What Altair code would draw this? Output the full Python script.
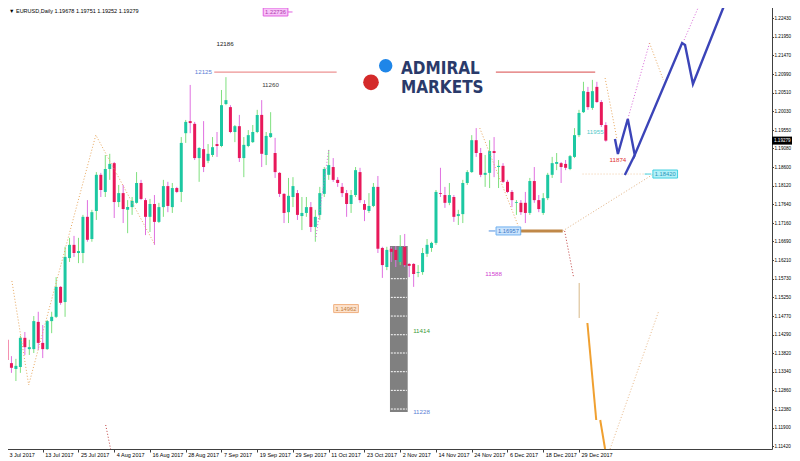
import json
import altair as alt
import pandas as pd

# ---------------- candle data (bar 0 = 3 Jul 2017, daily bars) ----------------
opens = [
    1.1416, 1.1356, 1.1341, 1.1346, 1.1421, 1.1392, 1.1392, 1.1462, 1.1408, 1.1392,
    1.1464, 1.1475, 1.1552, 1.1513, 1.1626, 1.1660, 1.1639, 1.1639, 1.1732, 1.1675,
    1.1747, 1.1840, 1.1796, 1.1855, 1.1870, 1.1770, 1.1793, 1.1750, 1.1757, 1.1768,
    1.1819, 1.1775, 1.1732, 1.1765, 1.1719, 1.1757, 1.1811, 1.1757, 1.1806, 1.1796,
    1.1947, 1.1978, 1.1971, 1.1883, 1.1906, 1.1876, 1.1891, 1.1919, 1.1914, 1.2022,
    1.2014, 1.1950, 1.1965, 1.1883, 1.1914, 1.1924, 1.1950, 1.1994, 1.1891, 1.1937,
    1.1896, 1.1845, 1.1791, 1.1744, 1.1783, 1.1793, 1.1734, 1.1742, 1.1757, 1.1706,
    1.1737, 1.1791, 1.1840, 1.1860, 1.1827, 1.1809, 1.1793, 1.1765, 1.1788, 1.1847,
    1.1765, 1.1747, 1.1760, 1.1809, 1.1652, 1.1603, 1.1650, 1.1647, 1.1616, 1.1655,
    1.1611, 1.1611, 1.1588, 1.1590, 1.1637, 1.1652, 1.1665, 1.1793, 1.1788, 1.1768,
    1.1783, 1.1734, 1.1739, 1.1819, 1.1847, 1.1929, 1.1896, 1.1840, 1.1845, 1.1901,
    1.1860, 1.1863, 1.1822, 1.1796, 1.1768, 1.1768, 1.1768, 1.1742, 1.1824, 1.1775,
    1.1742, 1.1780, 1.1840, 1.1868, 1.1870, 1.1868, 1.1855, 1.1886, 1.1942, 1.2001,
    1.2053, 1.2012, 1.2066, 1.2027, 1.19678,
]
highs = [
    1.1428, 1.1374, 1.1367, 1.1426, 1.1436, 1.1416, 1.1477, 1.1488, 1.1454, 1.1467,
    1.1488, 1.1577, 1.1554, 1.1655, 1.1678, 1.1683, 1.1678, 1.1737, 1.1775, 1.1750,
    1.1847, 1.1845, 1.1891, 1.1894, 1.1873, 1.1814, 1.1814, 1.1775, 1.1783, 1.1847,
    1.1827, 1.1780, 1.1778, 1.1788, 1.1768, 1.1827, 1.1822, 1.1819, 1.1809, 1.1937,
    1.1981, 1.2071, 1.1976, 1.1911, 1.1978, 1.1919, 1.1937, 1.1950, 1.2058, 1.2091,
    1.2019, 1.1968, 1.1994, 1.1937, 1.1955, 1.1968, 1.2007, 1.2032, 1.1950, 1.2001,
    1.1935, 1.1847, 1.1793, 1.1832, 1.1834, 1.1801, 1.1783, 1.1783, 1.1770, 1.1750,
    1.1809, 1.1860, 1.1904, 1.1883, 1.1834, 1.1819, 1.1801, 1.1801, 1.1860, 1.1858,
    1.1775, 1.1793, 1.1819, 1.1837, 1.1655, 1.1655, 1.1655, 1.1657, 1.1685, 1.1688,
    1.1613, 1.1613, 1.1608, 1.1652, 1.1675, 1.1668, 1.1801, 1.1858, 1.1809, 1.1819,
    1.1788, 1.1750, 1.1827, 1.1852, 1.1942, 1.1960, 1.1909, 1.1891, 1.1929, 1.1937,
    1.1878, 1.1870, 1.1827, 1.1801, 1.1775, 1.1775, 1.1796, 1.1832, 1.1860, 1.1788,
    1.1793, 1.1845, 1.1886, 1.1896, 1.1873, 1.1878, 1.1891, 1.1960, 1.2007, 1.2079,
    1.2066, 1.2084, 1.2079, 1.2032, 1.19751,
]
lows = [
    1.1351, 1.1331, 1.1310, 1.1331, 1.1377, 1.1377, 1.1382, 1.1390, 1.1369, 1.1390,
    1.1433, 1.1472, 1.1506, 1.1475, 1.1616, 1.1629, 1.1613, 1.1613, 1.1668, 1.1668,
    1.1724, 1.1783, 1.1783, 1.1827, 1.1729, 1.1757, 1.1716, 1.1690, 1.1737, 1.1766,
    1.1775, 1.1685, 1.1693, 1.1660, 1.1716, 1.1732, 1.1744, 1.1742, 1.1793, 1.1770,
    1.1922, 1.1947, 1.1878, 1.1822, 1.1847, 1.1870, 1.1886, 1.1886, 1.1911, 1.2019,
    1.1947, 1.1924, 1.1873, 1.1834, 1.1911, 1.1922, 1.1947, 1.1860, 1.1865, 1.1935,
    1.1832, 1.1783, 1.1716, 1.1716, 1.1757, 1.1724, 1.1698, 1.1732, 1.1693, 1.1668,
    1.1724, 1.1783, 1.1827, 1.1822, 1.1809, 1.1783, 1.1732, 1.1742, 1.1783, 1.1768,
    1.1721, 1.1742, 1.1757, 1.1639, 1.1575, 1.1595, 1.1616, 1.1603, 1.1608, 1.1603,
    1.1577, 1.1552, 1.1577, 1.1583, 1.1629, 1.1642, 1.1660, 1.1783, 1.1755, 1.1762,
    1.1719, 1.1711, 1.1716, 1.1814, 1.1845, 1.1886, 1.1834, 1.1809, 1.1806, 1.1834,
    1.1806, 1.1819, 1.1793, 1.1757, 1.1737, 1.1737, 1.1716, 1.1737, 1.1768, 1.1744,
    1.1737, 1.1775, 1.1832, 1.1852, 1.1819, 1.1852, 1.1852, 1.1883, 1.1937, 1.1999,
    1.2007, 1.2007, 1.2025, 1.1963, 1.19252,
]
closes = [
    1.1364, 1.1344, 1.1349, 1.1421, 1.1397, 1.1397, 1.1464, 1.1408, 1.1392, 1.1464,
    1.1475, 1.1552, 1.1511, 1.1629, 1.1660, 1.1639, 1.1644, 1.1732, 1.1673, 1.1744,
    1.1840, 1.1801, 1.1855, 1.1868, 1.1770, 1.1793, 1.1752, 1.1757, 1.1773, 1.1819,
    1.1778, 1.1732, 1.1765, 1.1719, 1.1757, 1.1811, 1.1760, 1.1806, 1.1796, 1.1922,
    1.1976, 1.1973, 1.1883, 1.1909, 1.1860, 1.1894, 1.1911, 1.1914, 1.2019, 1.2032,
    1.1950, 1.1965, 1.1883, 1.1917, 1.1942, 1.1950, 1.1994, 1.1894, 1.1940, 1.1947,
    1.1847, 1.1791, 1.1742, 1.1786, 1.1811, 1.1737, 1.1742, 1.1757, 1.1706, 1.1732,
    1.1793, 1.1855, 1.1865, 1.1827, 1.1819, 1.1793, 1.1765, 1.1788, 1.1852, 1.1775,
    1.1750, 1.1760, 1.1809, 1.1650, 1.1608, 1.1647, 1.1642, 1.1621, 1.1655, 1.1608,
    1.1606, 1.1585, 1.1590, 1.1639, 1.1660, 1.1665, 1.1796, 1.1791, 1.1768, 1.1788,
    1.1732, 1.1739, 1.1819, 1.1847, 1.1929, 1.1896, 1.1840, 1.1845, 1.1901, 1.1896,
    1.1863, 1.1822, 1.1796, 1.1775, 1.1770, 1.1744, 1.1742, 1.1824, 1.1775, 1.1752,
    1.1780, 1.1840, 1.1870, 1.1873, 1.1860, 1.1858, 1.1888, 1.1942, 1.1999, 1.2055,
    1.2014, 1.2055, 1.2027, 1.1968, 1.19279,
]

date_ticks = [0, 8, 16, 24, 32, 40, 48, 56, 64, 72, 80, 88, 96, 104, 112, 120, 128]
date_labels = ["3 Jul 2017", "13 Jul 2017", "25 Jul 2017", "4 Aug 2017", "16 Aug 2017",
               "28 Aug 2017", "7 Sep 2017", "19 Sep 2017", "29 Sep 2017", "11 Oct 2017",
               "23 Oct 2017", "2 Nov 2017", "14 Nov 2017", "24 Nov 2017", "6 Dec 2017",
               "18 Dec 2017", "29 Dec 2017"]
price_ticks = [1.22430, 1.21950, 1.21470, 1.20990, 1.20510, 1.20030, 1.19550, 1.19080,
               1.18600, 1.18120, 1.17640, 1.17160, 1.16690, 1.16210, 1.15730, 1.15250,
               1.14770, 1.14290, 1.13820, 1.13340, 1.12860, 1.12380, 1.11900, 1.11420]
last_price = 1.19279

# ---------------- drawn objects (bar index, price) ----------------
dotted_lines = [  # (id, colour, [(bar, price), ...])
    ("a", "#e8a860", [(1.10, 1.15671), (4.86, 1.12998), (19.88, 1.19423), (33.13, 1.16596)]),
    ("b", "#d868d8", [(69.13, 1.16802), (72.00, 1.19038)]),
    ("c", "#e8a860", [(105.79, 1.19603), (114.41, 1.17085)]),
    ("d", "#e0b080", [(124.35, 1.16957), (144.67, 1.18420)]),
    ("e", "#c04040", [(124.79, 1.16957), (126.78, 1.15774)]),
    ("f", "#e8b888", [(134.95, 1.11353), (145.77, 1.14875)]),
    ("g", "#e8a860", [(133.84, 1.20888), (136.49, 1.19321)]),
    ("h", "#d868d8", [(138.92, 1.19835), (143.78, 1.21788)]),
    ("i", "#d868d8", [(151.52, 1.21865), (154.83, 1.22739)]),
    ("j", "#e8a860", [(143.78, 1.21788), (146.87, 1.20838)]),
    ("k", "#c04040", [(22.09, 1.11970), (23.19, 1.11353)]),
    ("l", "#f0c8a0", [(128.8, 1.18420), (143.1, 1.18420)]),
]
solid_lines = [  # (id, colour, width, points)
    ("r1", "#e87878", 1, [(46.38, 1.21040), (73.77, 1.21040)]),
    ("r2", "#d84848", 1, [(109.4, 1.21040), (131.63, 1.21040)]),
    ("t1", "#d8b888", 1, [(128.04, 1.15620), (128.04, 1.14720)]),
    ("o1", "#f0a030", 2, [(129.88, 1.14592), (131.86, 1.12099)]),
    ("o2", "#f0a030", 2, [(132.75, 1.12099), (133.84, 1.11353)]),
    ("br", "#c08848", 3, [(114.85, 1.16957), (124.35, 1.16957)]),
    ("c1", "#5090e0", 1, [(107.8, 1.16957), (109.3, 1.16957)]),
    ("c2", "#40d0e0", 1, [(142.7, 1.18420), (144.2, 1.18420)]),
    ("c3", "#e060e0", 1, [(62.8, 1.22585), (63.9, 1.22585)]),
]
blue_path = [(136.05, 1.19321), (136.71, 1.18935), (138.92, 1.19835), (140.47, 1.18910),
             (151.07, 1.21788), (151.73, 1.21737), (153.50, 1.20734), (160.35, 1.22713)]
blue_stub = [(138.26, 1.18395), (140.47, 1.18910)]

number_labels = [  # text, bar, price, colour
    ("12186", 48.81, 1.21762, "#202020"),
    ("12125", 43.95, 1.21043, "#5b7fd6"),
    ("11260", 58.97, 1.20709, "#404040"),
    ("11414", 92.76, 1.14386, "#3c9a3c"),
    ("11228", 92.76, 1.12305, "#5b7fd6"),
    ("11588", 108.89, 1.15851, "#d040d0"),
    ("11955", 131.63, 1.19501, "#50c8c8"),
    ("11874", 136.71, 1.18781, "#e03030"),
]
price_boxes = [  # text, bar centre, price, fill, border, text colour
    ("1.22736", 60.1, 1.22585, "#f8c4f8", "#e060e0", "#b040b0"),
    ("1.14962", 75.87, 1.14962, "#fde2cc", "#f0b080", "#c08040"),
    ("1.16957", 112.2, 1.16957, "#cce4fc", "#70b0f0", "#3878c8"),
    ("1.18420", 147.3, 1.18420, "#b4f0f8", "#40d0e0", "#2898b8"),
]
gray_box = {"x1": 85.70, "x2": 89.67, "p1": 1.12305, "p2": 1.16571}
box_grid = [1.15730, 1.15250, 1.14770, 1.14290, 1.13820, 1.13340, 1.12860, 1.12380]

# ---------------- styling ----------------
BULL_BODY, BULL_WICK = "#1cc8a2", "#7fe07f"
BEAR_BODY, BEAR_WICK = "#e8185a", "#e070e0"
FONT = "Liberation Sans"
LOGO_FONT = "DejaVu Sans Condensed, Roboto, Liberation Sans"
BOX_HALF_W = 2.76     # bars
BOX_HALF_H = 0.00103  # price
PLOT_W, PLOT_H = 772, 449

xs = alt.Scale(domain=[-0.4417, 170.07], nice=False, zero=False)
ys = alt.Scale(domain=[1.11353, 1.22893], nice=False, zero=False)

x_axis = alt.Axis(values=date_ticks,
                  labelExpr=json.dumps(date_labels) + "[round(datum.value / 8)]",
                  labelAlign="left", labelBaseline="top", labelPadding=0, labelOffset=2,
                  labelFontSize=5.5, labelFont=FONT, labelColor="#000000",
                  tickSize=3, tickColor="#404040", domainColor="#404040",
                  labelOverlap=False, labelFlush=False, grid=False, title=None)
y_axis = alt.Axis(orient="right", values=price_ticks, format=".5f",
                  labelPadding=0.5, labelFontSize=4.6, labelFont=FONT, labelColor="#000000",
                  tickSize=1.5, tickColor="#404040", domainColor="#404040",
                  labelOverlap=False, labelFlush=False, grid=False, title=None)


def X(field):
    return alt.X(field, scale=xs, axis=x_axis, title=None)


def Y(field):
    return alt.Y(field, scale=ys, axis=y_axis, title=None)


candles = pd.DataFrame({"i": list(range(len(closes))), "o": opens, "h": highs,
                        "l": lows, "c": closes})
up = "datum.c > datum.o"

gray = alt.Chart(pd.DataFrame([gray_box])).mark_rect(color="#808080").encode(
    x=X("x1:Q"), x2="x2:Q", y=Y("p1:Q"), y2="p2:Q")
gdf = pd.DataFrame({"p": box_grid, "x1": gray_box["x1"] + 0.2, "x2": gray_box["x2"] - 0.2})
grid_dash = alt.Chart(gdf).mark_rule(color="#ffffff", strokeWidth=1, strokeDash=[2, 1]).encode(
    x=X("x1:Q"), x2="x2:Q", y=Y("p:Q"))

wicks = alt.Chart(candles).mark_rule(strokeWidth=1).encode(
    x=X("i:Q"), y=Y("l:Q"), y2="h:Q",
    color=alt.condition(up, alt.value(BULL_WICK), alt.value(BEAR_WICK)),
)
bodies = alt.Chart(candles).mark_bar(size=3).encode(
    x=X("i:Q"), y=Y("o:Q"), y2="c:Q",
    color=alt.condition(up, alt.value(BULL_BODY), alt.value(BEAR_BODY)),
)

rows = []
for sid, col, pts in dotted_lines:
    for k, (b, p) in enumerate(pts):
        rows.append({"sid": sid, "col": col, "k": k, "b": b, "p": p})
dotted = alt.Chart(pd.DataFrame(rows)).mark_line(strokeDash=[1, 2], strokeWidth=1).encode(
    x=X("b:Q"), y=Y("p:Q"), detail="sid:N", order="k:Q",
    color=alt.Color("col:N", scale=None))

solid_layers = []
for sid, col, w, pts in solid_lines:
    df = pd.DataFrame([{"k": k, "b": b, "p": p} for k, (b, p) in enumerate(pts)])
    solid_layers.append(alt.Chart(df).mark_line(color=col, strokeWidth=w).encode(
        x=X("b:Q"), y=Y("p:Q"), order="k:Q"))

bdf = pd.DataFrame([{"sid": "m", "k": k, "b": b, "p": p} for k, (b, p) in enumerate(blue_path)] +
                   [{"sid": "s", "k": k, "b": b, "p": p} for k, (b, p) in enumerate(blue_stub)])
blue = alt.Chart(bdf).mark_line(color="#3b44b8", strokeWidth=2.4, strokeJoin="miter").encode(
    x=X("b:Q"), y=Y("p:Q"), detail="sid:N", order="k:Q")

ndf = pd.DataFrame(number_labels, columns=["t", "b", "p", "col"])
numbers = alt.Chart(ndf).mark_text(fontSize=6.2, font=FONT).encode(
    x=X("b:Q"), y=Y("p:Q"), text="t:N", color=alt.Color("col:N", scale=None))

pbdf = pd.DataFrame(price_boxes, columns=["t", "b", "p", "bg", "bd", "tc"])
pbdf["x1"] = pbdf["b"] - BOX_HALF_W
pbdf["x2"] = pbdf["b"] + BOX_HALF_W
pbdf["p1"] = pbdf["p"] - BOX_HALF_H
pbdf["p2"] = pbdf["p"] + BOX_HALF_H
pbox = alt.Chart(pbdf).mark_rect(strokeWidth=1).encode(
    x=X("x1:Q"), x2="x2:Q", y=Y("p1:Q"), y2="p2:Q",
    fill=alt.Fill("bg:N", scale=None), stroke=alt.Stroke("bd:N", scale=None))
ptext = alt.Chart(pbdf).mark_text(fontSize=5.8, font=FONT).encode(
    x=X("b:Q"), y=Y("p:Q"), text="t:N", color=alt.Color("tc:N", scale=None))

lp = pd.DataFrame({"t": [f"{last_price:.5f}"], "p": [last_price],
                   "p1": [last_price - BOX_HALF_H], "p2": [last_price + BOX_HALF_H]})
last_box = alt.Chart(lp).mark_rect(color="#000000").encode(
    x=alt.value(PLOT_W), x2=alt.value(792), y=Y("p1:Q"), y2="p2:Q")
last_text = alt.Chart(lp).mark_text(color="#ffffff", fontSize=4.6, font=FONT, align="left").encode(
    x=alt.value(PLOT_W + 2), y=Y("p:Q"), text="t:N")

one = pd.DataFrame({"a": [0]})
title = alt.Chart(one).mark_text(text="\u25bc EURUSD,Daily  1.19678 1.19751 1.19252 1.19279",
                                 fontSize=5.5, font=FONT, align="left", baseline="top",
                                 color="#000000").encode(x=alt.value(9), y=alt.value(9))
logo_blue = alt.Chart(one).mark_circle(size=180, color="#1f86e8", opacity=1).encode(
    x=alt.value(385.7), y=alt.value(65.7))
logo_red = alt.Chart(one).mark_circle(size=245, color="#d42a2a", opacity=1).encode(
    x=alt.value(371), y=alt.value(82.3))
logo_t1 = alt.Chart(one).mark_text(text="ADMIRAL", font=LOGO_FONT, fontWeight="bold",
                                   fontSize=17, align="left", baseline="alphabetic",
                                   color="#2a3a6a").encode(x=alt.value(401), y=alt.value(74))
logo_t2 = alt.Chart(one).mark_text(text="MARKETS", font=LOGO_FONT, fontWeight="bold",
                                   fontSize=17, align="left", baseline="alphabetic",
                                   color="#2a3a6a").encode(x=alt.value(401), y=alt.value(92.5))

chart = alt.layer(
    gray, grid_dash, wicks, bodies, dotted, *solid_layers, blue,
    numbers, pbox, ptext, last_box, last_text, title,
    logo_blue, logo_red, logo_t1, logo_t2,
).properties(
    width=PLOT_W, height=PLOT_H,
    padding={"left": -8, "top": -8, "right": 792 - PLOT_W, "bottom": 12},
    autosize=alt.AutoSizeParams(type="none"),
).configure(background="#ffffff").configure_view(strokeWidth=0)

chart.save("out.html", embed_options={"renderer": "svg", "actions": False})
